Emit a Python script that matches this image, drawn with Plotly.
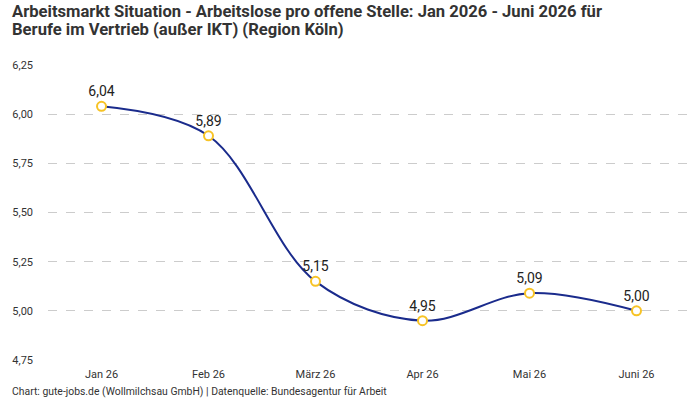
import plotly.graph_objects as go

months = ["Jan 26", "Feb 26", "März 26", "Apr 26", "Mai 26", "Juni 26"]
values = [6.04, 5.89, 5.15, 4.95, 5.09, 5.00]
labels = ["6,04", "5,89", "5,15", "4,95", "5,09", "5,00"]
yticks = [4.75, 5.00, 5.25, 5.50, 5.75, 6.00, 6.25]
yticklabels = ["4,75", "5,00", "5,25", "5,50", "5,75", "6,00", "6,25"]
title_lines = [
    "Arbeitsmarkt Situation - Arbeitslose pro offene Stelle: Jan 2026 - Juni 2026 für",
    "Berufe im Vertrieb (außer IKT) (Region Köln)",
]

FONT = "Roboto"
PLOT_H = 295
PLOT_W = 642
TOP = 65

fig = go.Figure()
fig.add_trace(go.Scatter(
    x=list(range(len(months))), y=values,
    mode="lines+markers+text",
    line=dict(color="#1a2b8c", width=2, shape="spline", smoothing=1.0),
    marker=dict(size=9, color="white", line=dict(color="#f7c325", width=2)),
    text=labels, textposition="top center",
    textfont=dict(family=FONT, size=14, color="#222222"),
    cliponaxis=False,
    hoverinfo="skip",
))

anns = []
for i, line in enumerate(title_lines):
    ypix = 11 + 18.5 * i
    anns.append(dict(
        text="<b>" + line + "</b>",
        xref="paper", yref="paper", x=-38/PLOT_W, y=1 + (TOP - ypix)/PLOT_H,
        xanchor="left", yanchor="middle", align="left", showarrow=False,
        font=dict(family=FONT, size=16.6, color="#333333"),
    ))
anns.append(dict(
    text="Chart: gute-jobs.de (Wollmilchsau GmbH) | Datenquelle: Bundesagentur für Arbeit",
    xref="paper", yref="paper", x=-38/PLOT_W, y=-40/PLOT_H,
    xanchor="left", yanchor="bottom", showarrow=False,
    font=dict(family=FONT, size=10.4, color="#333333"),
))

fig.update_layout(
    width=700, height=400,
    margin=dict(l=48, r=10, t=TOP, b=40),
    paper_bgcolor="white", plot_bgcolor="white",
    showlegend=False,
    font=dict(family=FONT, color="#333333"),
    xaxis=dict(
        range=[-0.5, 5.5], tickmode="array",
        tickvals=list(range(len(months))), ticktext=months,
        showgrid=False, zeroline=False, showline=False,
        tickfont=dict(family=FONT, size=11, color="#333333"),
        ticks="", ticklabelstandoff=6,
    ),
    yaxis=dict(
        range=[4.75, 6.25], tickmode="array",
        tickvals=yticks, ticktext=yticklabels,
        showgrid=True, gridcolor="#cccccc", griddash="dash", gridwidth=1,
        zeroline=False, showline=False,
        tickfont=dict(family=FONT, size=11, color="#333333"),
        ticks="", ticklabelstandoff=14,
    ),
    annotations=anns,
)

fig.write_html("out.html")
